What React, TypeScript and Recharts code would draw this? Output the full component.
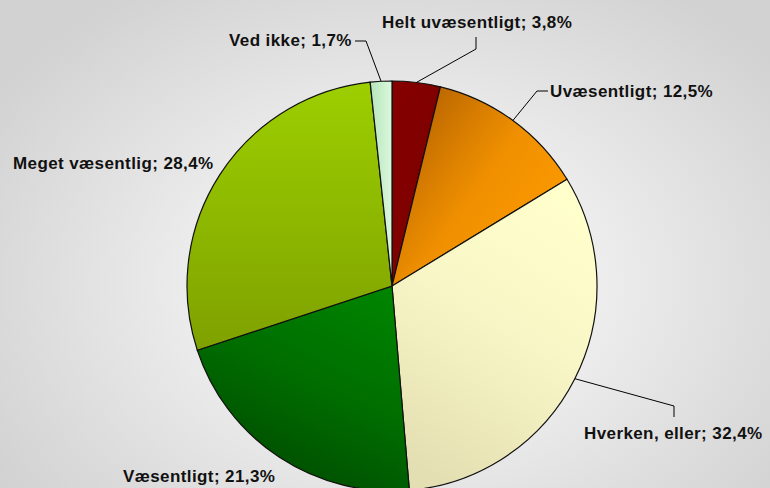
import React from 'react';
import { PieChart, Pie, Cell } from 'recharts';

const categories = ['Helt uvæsentligt', 'Uvæsentligt', 'Hverken, eller', 'Væsentligt', 'Meget væsentlig', 'Ved ikke'];
const shares = [3.8, 12.5, 32.4, 21.3, 28.4, 1.7];
const shareLabels = ['3,8%', '12,5%', '32,4%', '21,3%', '28,4%', '1,7%'];

const data = categories.map((name, i) => ({ name, value: shares[i], shareLabel: shareLabels[i] }));

const GRADIENTS = [
  { id: 'g0', x1: 0, y1: 0, x2: 1, y2: 1, stops: [['0%', '#860000'], ['100%', '#7a0000']] },
  { id: 'g1', x1: 0, y1: 0, x2: 1, y2: 0.8, stops: [['0%', '#a85800'], ['55%', '#f09000'], ['100%', '#ff9c00']] },
  { id: 'g2', x1: 0.7, y1: 0, x2: 0.3, y2: 1, stops: [['0%', '#ffffcc'], ['45%', '#f8f6c6'], ['100%', '#e4dfb2']] },
  { id: 'g3', x1: 0.8, y1: 0, x2: 0.3, y2: 1, stops: [['0%', '#008400'], ['50%', '#006c00'], ['100%', '#004800']] },
  { id: 'g4', x1: 0.5, y1: 0, x2: 0.5, y2: 1, stops: [['0%', '#9ccf00'], ['100%', '#7fa100']] },
  { id: 'g5', x1: 0, y1: 0, x2: 1, y2: 0, stops: [['0%', '#b4e6bc'], ['100%', '#dcf8dc']] },
];

// label layout: text start & baseline, leader line elbow and end
const LABEL_LAYOUT = [
  { tx: 382, ty: 28, pts: [[476, 49], [476, 37]] },
  { tx: 550, ty: 97, pts: [[537, 91], [548, 91]] },
  { tx: 584, ty: 439, pts: [[674, 406], [674, 417]] },
  { tx: 123, ty: 482, pts: null },
  { tx: 13, ty: 169, pts: null },
  { tx: 229, ty: 46, pts: [[366, 41], [355, 41]] },
];

const RAD = Math.PI / 180;

const renderLabel = (props: any) => {
  const { cx, cy, midAngle, outerRadius, index, payload } = props;
  const lay = LABEL_LAYOUT[index];
  const sx = cx + Math.cos(-midAngle * RAD) * outerRadius;
  const sy = cy + Math.sin(-midAngle * RAD) * outerRadius;
  const name = payload?.name ?? categories[index];
  const sl = payload?.shareLabel ?? shareLabels[index];
  return (
    <g key={`lbl-${index}`}>
      {lay.pts && (
        <polyline
          points={[[sx, sy], ...lay.pts].map((p) => p.join(',')).join(' ')}
          fill="none"
          stroke="#000"
          strokeWidth={1}
        />
      )}
      <text
        x={lay.tx}
        y={lay.ty}
        fill="#111"
        fontFamily="'Liberation Sans', Arial, sans-serif"
        fontWeight="bold"
        fontSize={17}
        letterSpacing={0.4}
        textAnchor="start"
      >
        {`${name}; ${sl}`}
      </text>
    </g>
  );
};

export default function App() {
  return (
    <div
      style={{
        position: 'absolute',
        left: 0,
        top: 0,
        width: 770,
        height: 488,
        overflow: 'hidden',
        background: 'radial-gradient(ellipse 62% 72% at 52% 58%, #f6f6f6 0%, #eeeeee 40%, #d2d2d2 100%)',
      }}
    >
      <PieChart width={770} height={488} margin={{ top: 0, right: 0, bottom: 0, left: 0 }}>
        <defs>
          {GRADIENTS.map((g) => (
            <linearGradient key={g.id} id={g.id} x1={g.x1} y1={g.y1} x2={g.x2} y2={g.y2}>
              {g.stops.map(([o, c], i) => (
                <stop key={i} offset={o} stopColor={c} />
              ))}
            </linearGradient>
          ))}
        </defs>
        <Pie
          data={data}
          dataKey="value"
          nameKey="name"
          cx={392}
          cy={286}
          outerRadius={205}
          startAngle={90}
          endAngle={-270}
          stroke="#111"
          strokeWidth={1.2}
          label={renderLabel}
          labelLine={false}
          isAnimationActive={false}
        >
          {data.map((d, i) => (
            <Cell key={d.name} fill={`url(#${GRADIENTS[i].id})`} stroke="#111" strokeWidth={1.2} />
          ))}
        </Pie>
      </PieChart>
    </div>
  );
}
